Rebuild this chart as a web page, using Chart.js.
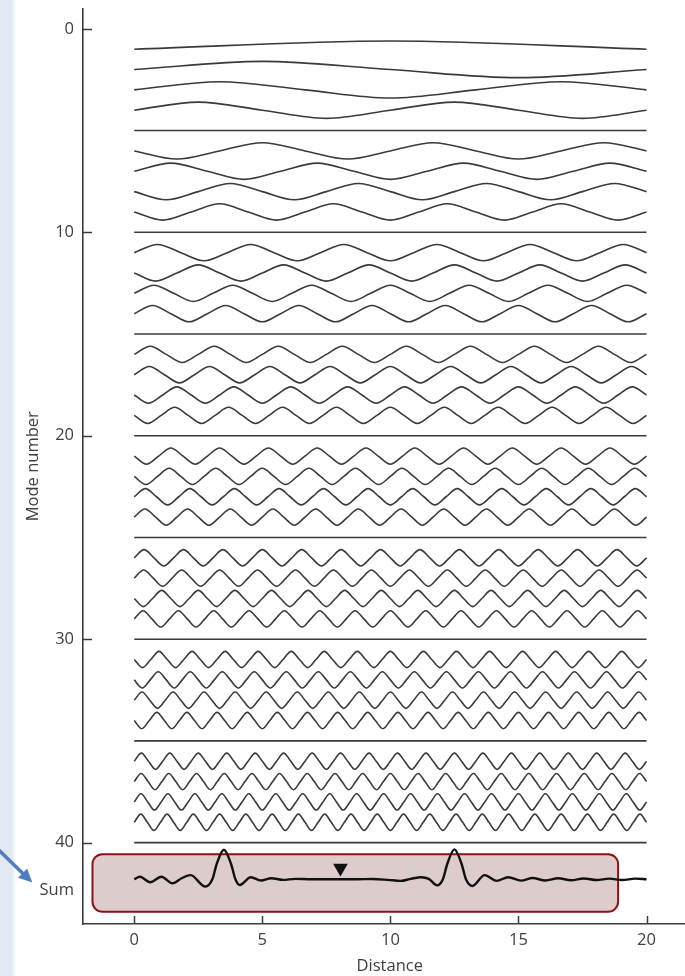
<!DOCTYPE html>
<html>
<head>
<meta charset="utf-8">
<title>Mode summation</title>
<script src="https://cdn.jsdelivr.net/npm/chart.js@4.4.1/dist/chart.umd.min.js"></script>
<style>
  html, body {
    margin: 0;
    padding: 0;
    width: 685px;
    height: 976px;
    overflow: hidden;
    background: linear-gradient(to right, #e2e9f5 0, #e2e9f5 12px, #f3f6fb 14px, #ffffff 16px);
  }
  #wrap { position: relative; width: 705px; height: 976px; }
</style>
</head>
<body>
<div id="wrap"><canvas id="modeChart" width="705" height="976"></canvas></div>
<script>
// ==== DATA ====
// one string per mode (1..40), one char per half wave:
// "+" bulges up (towards mode 0), "-" bulges down, "" = flat line
const modeLobes = [
  "+",
  "+-",
  "+-+",
  "+-+-",
  "",
  "-+-+-+",
  "+-+-+-+",
  "-+-+-+-+",
  "-+-+-+-+-",
  "",
  "+-+-+-+-+-" + "+",
  "-+-+-+-+-+" + "-+",
  "+-+-+-+-+-" + "+-+",
  "+-+-+-+-+-" + "+-+-",
  "",
  "+-+-+-+-+-" + "+-+-+-",
  "+-+-+-+-+-" + "+-+-+-+",
  "-+-+-+-+-+" + "-+-+-+-+",
  "-+-+-+-+-+" + "-+-+-+-+-",
  "",
  "-+-+-+-+-+" + "-+-+-+-+-+" + "-",
  "-+-+-+-+-+" + "-+-+-+-+-+" + "-+",
  "+-+-+-+-+-" + "+-+-+-+-+-" + "+-+",
  "+-+-+-+-+-" + "+-+-+-+-+-" + "+-+-",
  "",
  "+-+-+-+-+-" + "+-+-+-+-+-" + "+-+-+-",
  "+-+-+-+-+-" + "+-+-+-+-+-" + "+-+-+-+",
  "-+-+-+-+-+" + "-+-+-+-+-+" + "-+-+-+-+",
  "+-+-+-+-+-" + "+-+-+-+-+-" + "+-+-+-+-+",
  "",
  "-+-+-+-+-+" + "-+-+-+-+-+" + "-+-+-+-+-+" + "-",
  "-+-+-+-+-+" + "-+-+-+-+-+" + "-+-+-+-+-+" + "-+",
  "+-+-+-+-+-" + "+-+-+-+-+-" + "+-+-+-+-+-" + "+-+",
  "-+-+-+-+-+" + "-+-+-+-+-+" + "-+-+-+-+-+" + "-+-+",
  "",
  "+-+-+-+-+-" + "+-+-+-+-+-" + "+-+-+-+-+-" + "+-+-+-",
  "+-+-+-+-+-" + "+-+-+-+-+-" + "+-+-+-+-+-" + "+-+-+-+",
  "+-+-+-+-+-" + "+-+-+-+-+-" + "+-+-+-+-+-" + "+-+-+-+-",
  "+-+-+-+-+-" + "+-+-+-+-+-" + "+-+-+-+-+-" + "+-+-+-+-+",
  ""
];
const waveSpan = [0, 20];      // distance covered by every mode
const waveAmp = 0.4;           // half height of a wave, in mode units

// summed trace (distance, displacement up)
const sumX = [0, 0.22, 0.62, 1.06, 1.5, 1.85, 2.2, 2.77, 3.05, 3.22, 3.5, 3.78, 3.95, 4.12,
  4.55, 4.95, 5.35, 5.8, 6.3, 6.9, 7.6, 8.1, 8.7, 9.3, 9.9, 10.4, 10.8, 11.2, 11.5, 11.82,
  12.05, 12.22, 12.5, 12.78, 12.95, 13.2, 13.68, 14.15, 14.6, 15.1, 15.55, 16.05, 16.55,
  17.05, 17.55, 18.05, 18.55, 19.05, 19.55, 20];
const sumDisp = [0, 0.12, -0.15, 0.12, -0.2, 0.05, 0.2, -0.36, 0, 0.75, 1.45, 0.75, 0, -0.28,
  0.1, -0.06, 0.05, -0.03, 0.02, 0, 0, 0, 0, 0.01, -0.03, -0.08, 0.02, 0.1, 0.02, -0.3,
  0, 0.75, 1.47, 0.75, 0, -0.33, 0.2, -0.08, 0.1, -0.07, 0.06, -0.06, 0.05,
  -0.05, 0.04, -0.04, 0.03, -0.04, 0.03, 0];
const sumBase = 41.8;
const sumLabelAt = 42.35;
const markerAt = [8.05, 41.25];   // source triangle

// axes
const xRange = [-2, 21.95];
const yRange = [-1, 44];
const xTickValues = [0, 5, 10, 15, 20];
const yTickValues = [0, 10, 20, 30, 40];

// highlight box and arrow, in data units
const boxCorners = [-1.63, 40.57, 18.89, 43.4];
const arrowFromTo = [-5.3, 40.35, -3.98, 41.96];

// ==== BUILD SERIES ====
function modePoints(n, lobes) {
  const pts = [{ x: waveSpan[0], y: n }];
  if (!lobes) {
    pts.push({ x: waveSpan[1], y: n });
    return pts;
  }
  const w = (waveSpan[1] - waveSpan[0]) / lobes.length;
  for (let i = 0; i < lobes.length; i++) {
    const dir = lobes[i] === "+" ? -1 : 1;
    pts.push({ x: waveSpan[0] + w * (i + 0.5), y: n + dir * waveAmp });
    pts.push({ x: waveSpan[0] + w * (i + 1), y: n });
  }
  return pts;
}

const datasets = [];

datasets.push({
  data: [{ x: markerAt[0], y: markerAt[1] }],
  showLine: false,
  pointStyle: "triangle",
  rotation: 180,
  pointRadius: 8.5,
  pointBackgroundColor: "#111",
  pointBorderWidth: 0
});

datasets.push({
  data: sumX.map((x, i) => ({ x, y: sumBase - sumDisp[i] })),
  borderColor: "#111",
  borderWidth: 2.4,
  pointRadius: 0,
  cubicInterpolationMode: "monotone"
});

modeLobes.forEach((lobes, i) => {
  datasets.push({
    data: modePoints(i + 1, lobes),
    borderColor: "#3a3a3a",
    borderWidth: 1.6,
    pointRadius: 0,
    cubicInterpolationMode: "monotone"
  });
});

// ==== PLUGINS ====
const highlightBox = {
  id: "highlightBox",
  beforeDatasetsDraw(chart) {
    const { ctx, scales: { x, y } } = chart;
    const x0 = x.getPixelForValue(boxCorners[0]);
    const y0 = y.getPixelForValue(boxCorners[1]);
    const x1 = x.getPixelForValue(boxCorners[2]);
    const y1 = y.getPixelForValue(boxCorners[3]);
    ctx.save();
    ctx.beginPath();
    ctx.roundRect(x0, y0, x1 - x0, y1 - y0, 10);
    ctx.fillStyle = "#ddcccc";
    ctx.fill();
    ctx.lineWidth = 2;
    ctx.strokeStyle = "#8a1212";
    ctx.stroke();
    ctx.restore();
  }
};

const axisDecor = {
  id: "axisDecor",
  afterDraw(chart) {
    const { ctx, chartArea, scales: { x, y } } = chart;
    ctx.save();
    ctx.strokeStyle = "#3c3c3c";
    ctx.lineWidth = 1.5;
    ctx.beginPath();
    xTickValues.forEach(v => {
      const px = Math.round(x.getPixelForValue(v)) + 0.5;
      ctx.moveTo(px, chartArea.bottom);
      ctx.lineTo(px, chartArea.bottom - 8);
    });
    yTickValues.forEach(v => {
      const py = Math.round(y.getPixelForValue(v)) + 0.5;
      ctx.moveTo(chartArea.left, py);
      ctx.lineTo(chartArea.left + 9, py);
    });
    ctx.stroke();

    // blue arrow pointing at the sum
    const ax0 = x.getPixelForValue(arrowFromTo[0]);
    const ay0 = y.getPixelForValue(arrowFromTo[1]);
    const ax1 = x.getPixelForValue(arrowFromTo[2]);
    const ay1 = y.getPixelForValue(arrowFromTo[3]);
    const ang = Math.atan2(ay1 - ay0, ax1 - ax0);
    const head = 15;
    ctx.strokeStyle = "#4f7fc0";
    ctx.fillStyle = "#4f7fc0";
    ctx.lineWidth = 3.5;
    ctx.beginPath();
    ctx.moveTo(ax0, ay0);
    ctx.lineTo(ax1 - Math.cos(ang) * head * 0.8, ay1 - Math.sin(ang) * head * 0.8);
    ctx.stroke();
    ctx.beginPath();
    ctx.moveTo(ax1, ay1);
    ctx.lineTo(ax1 - head * Math.cos(ang - 0.45), ay1 - head * Math.sin(ang - 0.45));
    ctx.lineTo(ax1 - head * Math.cos(ang + 0.45), ay1 - head * Math.sin(ang + 0.45));
    ctx.closePath();
    ctx.fill();
    ctx.restore();
  }
};

// ==== CHART ====
const labelFont = { family: "'Open Sans', 'Noto Sans', sans-serif", size: 16.5 };

new Chart(document.getElementById("modeChart").getContext("2d"), {
  type: "line",
  data: { datasets },
  plugins: [highlightBox, axisDecor],
  options: {
    responsive: false,
    devicePixelRatio: 1,
    animation: false,
    events: [],
    layout: { padding: { top: 6, right: 0, left: 0, bottom: 0 } },
    plugins: { legend: { display: false }, tooltip: { enabled: false } },
    scales: {
      x: {
        type: "linear",
        min: xRange[0],
        max: xRange[1],
        afterBuildTicks: s => { s.ticks = xTickValues.map(v => ({ value: v })); },
        afterFit: s => { s.height = 52; s.paddingLeft = 0; s.paddingRight = 0; },
        ticks: { font: labelFont, color: "#404040", padding: 6, maxRotation: 0, autoSkip: false },
        grid: { display: false, drawTicks: false },
        border: { display: true, color: "#3c3c3c", width: 1.6 },
        title: { display: true, text: "Distance", font: labelFont, color: "#404040", padding: { top: 0, bottom: 0 } }
      },
      y: {
        type: "linear",
        reverse: true,
        min: yRange[0],
        max: yRange[1],
        afterBuildTicks: s => {
          s.ticks = yTickValues.map(v => ({ value: v })).concat([{ value: sumLabelAt }]);
        },
        afterFit: s => { s.width = 83; s.paddingTop = 0; s.paddingBottom = 0; },
        ticks: {
          font: labelFont,
          color: "#404040",
          padding: 9,
          autoSkip: false,
          callback: v => (v === sumLabelAt ? "Sum" : v)
        },
        grid: { display: false, drawTicks: false },
        border: { display: true, color: "#3c3c3c", width: 1.6 },
        title: { display: true, text: "Mode number", font: labelFont, color: "#404040", padding: { top: 23, bottom: 0 } }
      }
    }
  }
});
</script>
</body>
</html>
